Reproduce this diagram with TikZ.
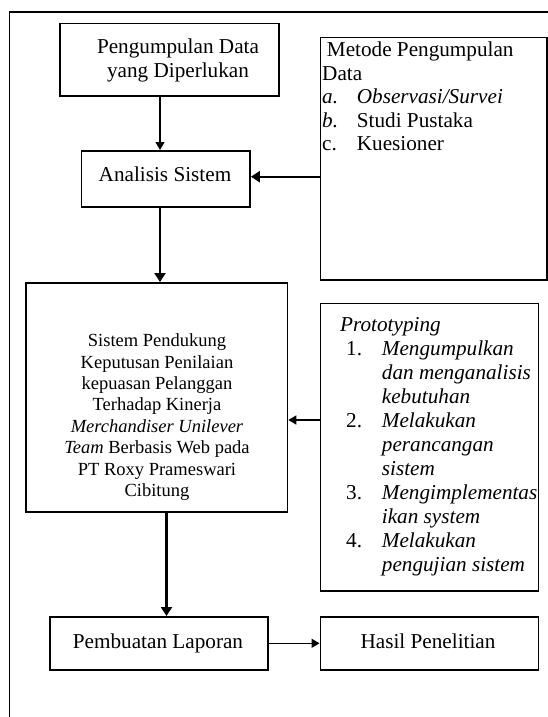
\documentclass[tikz,border=0pt]{standalone}
\usepackage{fontspec}
\setmainfont{Liberation Serif}
\usetikzlibrary{arrows.meta}

% text sizes used in the flowchart
\newcommand\mainsize{\fontsize{21.2pt}{24pt}\selectfont}
\newcommand\listsize{\fontsize{21.2pt}{23.5pt}\selectfont}
\newcommand\bodysize{\fontsize{18.5pt}{21.4pt}\selectfont}
% centred stack of lines whose reference point is the first baseline
\newcommand\stackc[1]{\begin{tabular}[t]{@{}c@{}}#1\end{tabular}}

\begin{document}
\begin{tikzpicture}[x=1pt,y=-1pt,
  box/.style={draw, line width=1.6pt, inner sep=0pt, anchor=north west},
  txt/.style={inner sep=0pt, anchor=base, font=\mainsize},
  thinarrow/.style={line width=1.3pt, -{Triangle[length=8pt,width=9pt]}},
  thickarrow/.style={line width=2.2pt, -{Triangle[length=9pt,width=11pt]}}
]
\useasboundingbox (0,0) rectangle (548,717);

% outer frame (open at the right and bottom)
\draw[line width=1.8pt] (548,12) -- (9.4,12) -- (9.4,717);

% boxes
\node[box, minimum width=218.7pt, minimum height=72.3pt] (collect) at (59.3,22.7) {};
\node[box, minimum width=168.6pt, minimum height=56pt] (analysis) at (80.7,150) {};
\node[box, minimum width=226.8pt, minimum height=242.5pt] (methods) at (319.5,36.7) {};
\node[box, minimum width=261.7pt, minimum height=229pt] (system) at (25,282) {};
\node[box, minimum width=218pt, minimum height=287.3pt] (proto) at (319.5,302.7) {};
\node[box, minimum width=218pt, minimum height=53pt] (report) at (49,616) {};
\node[box, minimum width=218pt, minimum height=53pt] (result) at (319.5,616) {};

% box texts
\node[txt] (collecttxt) at (178,54) {\stackc{Pengumpulan Data\\yang Diperlukan}};
\node[txt] (analysistxt) at (165,181) {Analisis Sistem};
\node[txt, anchor=base west, font=\listsize] (methodstxt) at (322,56.7) {%
  \begin{tabular}[t]{@{}p{34.7pt}@{}l@{}}
  \multicolumn{2}{@{}l@{}}{\hspace{4.7pt}Metode Pengumpulan}\\
  \multicolumn{2}{@{}l@{}}{Data}\\
  \textit{a.} & \textit{Observasi/Survei}\\
  \textit{b.} & Studi Pustaka\\
  c. & Kuesioner
  \end{tabular}};
\node[txt, font=\bodysize] (systemtxt) at (157,346.7) {\stackc{%
  Sistem Pendukung\\
  Keputusan Penilaian\\
  kepuasan Pelanggan\\
  Terhadap Kinerja\\
  \textit{Merchandiser Unilever}\\
  \textit{Team} Berbasis Web pada\\
  PT Roxy Prameswari\\
  Cibitung}};
\node[txt, anchor=base west] (prototxt) at (340,331.7) {%
  \begin{tabular}[t]{@{}p{41.7pt}@{}l@{}}
  \multicolumn{2}{@{}l@{}}{\textit{Prototyping}}\\
  \hspace{6pt}1. & \textit{Mengumpulkan}\\
   & \textit{dan menganalisis}\\
   & \textit{kebutuhan}\\
  \hspace{6pt}2. & \textit{Melakukan}\\
   & \textit{perancangan}\\
   & \textit{sistem}\\
  \hspace{6pt}3. & \textit{Mengimplementas}\\
   & \textit{ikan system}\\
  \hspace{6pt}4. & \textit{Melakukan}\\
   & \textit{pengujian sistem}
  \end{tabular}};
\node[txt] (reporttxt) at (158,648) {Pembuatan Laporan};
\node[txt] (resulttxt) at (428,648) {Hasil Penelitian};

% connector guide positions
\coordinate (c1) at (160,0);
\coordinate (c2) at (160,0);
\coordinate (c3) at (166.5,0);
\coordinate (r1) at (0,176.7);
\coordinate (r2) at (0,420);

% connectors
\draw[thinarrow] (collect.south -| c1) -- (analysis.north -| c1);
\draw[thickarrow] (analysis.south -| c2) -- (system.north -| c2);
\draw[thickarrow] (methods.west |- r1) -- (analysis.east |- r1);
\draw[thinarrow] (proto.west |- r2) -- (system.east |- r2);
\draw[thickarrow] (system.south -| c3) -- (report.north -| c3);
\draw[line width=1.5pt, -{Triangle[length=8pt,width=9pt]}] (report.east) -- (result.west);
\end{tikzpicture}
\end{document}
